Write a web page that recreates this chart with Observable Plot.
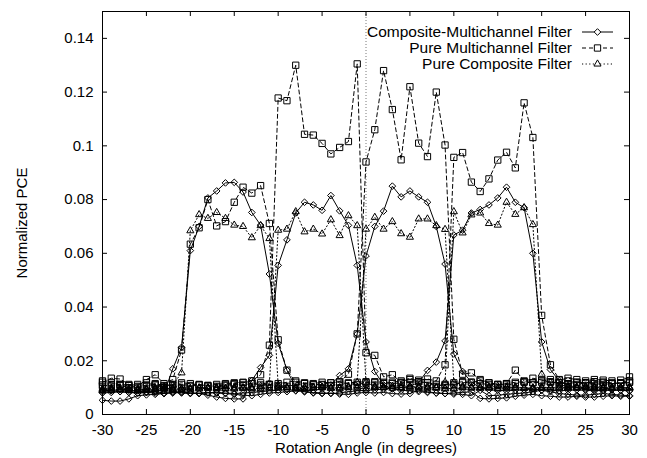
<!DOCTYPE html>
<html><head><meta charset="utf-8">
<script src="https://cdn.jsdelivr.net/npm/d3@7"></script>
<script src="https://cdn.jsdelivr.net/npm/@observablehq/plot@0.6"></script>
<style>
body{margin:0;background:#fff}
#chart{position:relative;width:647px;height:458px}
</style>
</head><body><div id="chart"></div>
<script>
// ---------- data (x = -30 .. 30 degrees, step 1) ----------
const angles = d3.range(-30, 31);

// Composite-Multichannel Filter (4 curves)
const cm1 = [0.0053,0.0050,0.0050,0.0058,0.0070,0.0073,0.0075,0.0078,
  0.0170,0.0250,0.0610,0.0700,0.0806,0.0832,0.0862,0.0864,0.0828,0.0752,0.0705,0.0523,0.0265,0.0165,
  0.0100,0.0085,0.0080,0.0078,0.0080,0.0076,0.0075,0.0080,0.0082,0.0080,0.0082,0.0078,0.0076,0.0078,0.0090,0.0085,0.0080,0.0078,0.0076,0.0075,0.0070,0.0090,0.0070,0.0072,0.0075,0.0078,0.0080,0.0085,0.0090,0.0085,0.0078,0.0075,0.0072,0.0072,0.0075,0.0078,0.0075,0.0072,0.0070];
const cm2 = [0.0080,0.0082,0.0085,0.0083,0.0080,0.0082,0.0085,0.0080,0.0082,0.0085,0.0080,0.0078,0.0072,0.0065,0.0060,0.0058,0.0058,
  0.0127,0.0175,0.0220,0.0555,0.0650,0.0750,0.0790,0.0780,0.0760,0.0815,0.0758,0.0704,0.0555,0.0270,0.0160,
  0.0110,0.0095,0.0090,0.0088,0.0085,0.0082,0.0080,0.0078,0.0080,0.0082,0.0085,0.0060,0.0058,0.0060,0.0062,0.0068,0.0072,0.0075,0.0070,0.0068,0.0065,0.0065,0.0068,0.0065,0.0065,0.0068,0.0070,0.0068,0.0068];
const cm3 = [0.0090,0.0088,0.0085,0.0082,0.0080,0.0082,0.0080,0.0078,0.0080,0.0082,0.0080,0.0078,0.0080,0.0082,0.0080,0.0078,0.0080,0.0082,0.0085,0.0088,0.0090,0.0092,0.0090,0.0088,0.0090,0.0095,
  0.0110,0.0145,0.0170,0.0300,0.0590,0.0700,0.0757,0.0850,0.0810,0.0832,0.0810,0.0790,0.0700,0.0560,0.0225,0.0160,0.0120,
  0.0100,0.0092,0.0090,0.0088,0.0090,0.0092,0.0095,0.0092,0.0090,0.0088,0.0090,0.0092,0.0090,0.0088,0.0090,0.0092,0.0090,0.0088];
const cm4 = [0.0085,0.0090,0.0092,0.0090,0.0088,0.0085,0.0088,0.0090,0.0085,0.0080,0.0078,0.0080,0.0082,0.0080,0.0078,0.0075,0.0072,0.0070,0.0075,0.0080,0.0082,0.0085,0.0088,0.0085,0.0082,0.0080,0.0078,0.0080,0.0085,0.0088,0.0090,0.0092,0.0095,0.0098,0.0100,0.0105,
  0.0120,0.0164,0.0195,0.0274,0.0668,0.0686,0.0750,0.0763,0.0780,0.0806,0.0846,0.0790,0.0770,0.0600,0.0270,0.0167,0.0125,
  0.0110,0.0100,0.0095,0.0092,0.0090,0.0092,0.0090,0.0088];

// Pure Multichannel Filter (4 curves)
const pm1 = [0.0120,0.0135,0.0132,0.0112,0.0105,0.0130,0.0148,0.0115,
  0.0130,0.0240,0.0634,0.0695,0.0800,0.0702,0.0718,0.0790,0.0846,0.0824,0.0852,0.0711,0.0278,0.0165,0.0120,
  0.0115,0.0110,0.0112,0.0118,0.0120,0.0115,0.0112,0.0118,0.0122,0.0120,0.0115,0.0118,0.0120,0.0122,0.0118,0.0112,0.0108,0.0112,0.0118,0.0120,0.0115,0.0112,0.0110,0.0115,0.0165,0.0125,0.0118,0.0120,0.0122,0.0118,0.0115,0.0120,0.0118,0.0115,0.0112,0.0115,0.0118,0.0120];
const pm2 = [0.0110,0.0105,0.0108,0.0100,0.0098,0.0105,0.0110,0.0100,0.0095,0.0098,0.0105,0.0110,0.0108,0.0105,0.0112,0.0115,0.0118,
  0.0125,0.0148,0.0258,0.1178,0.1168,0.1300,0.1043,0.1040,0.1009,0.0970,0.0994,0.1016,0.1305,0.0230,0.0220,0.0140,
  0.0148,0.0120,0.0135,0.0122,0.0118,0.0105,0.0112,0.0118,0.0122,0.0120,0.0125,0.0118,0.0112,0.0110,0.0115,0.0120,0.0118,0.0125,0.0130,0.0128,0.0135,0.0130,0.0125,0.0130,0.0128,0.0125,0.0128,0.0140];
const pm3 = [0.0105,0.0110,0.0112,0.0108,0.0102,0.0110,0.0115,0.0108,0.0112,0.0118,0.0115,0.0110,0.0108,0.0112,0.0115,0.0118,0.0120,0.0115,0.0110,0.0112,0.0115,0.0120,0.0125,0.0118,0.0115,0.0120,0.0118,0.0122,
  0.0150,0.0300,0.0940,0.1060,0.1280,0.1135,0.0948,0.1220,0.1010,0.0960,0.1200,0.1003,0.0280,0.0150,0.0155,
  0.0130,0.0118,0.0112,0.0115,0.0120,0.0122,0.0135,0.0128,0.0120,0.0118,0.0115,0.0112,0.0118,0.0122,0.0120,0.0115,0.0118,0.0125];
const pm4 = [0.0125,0.0118,0.0112,0.0108,0.0112,0.0118,0.0110,0.0105,0.0110,0.0112,0.0108,0.0112,0.0105,0.0102,0.0108,0.0112,0.0110,0.0115,0.0118,0.0112,0.0108,0.0105,0.0110,0.0115,0.0112,0.0110,0.0108,0.0112,0.0118,0.0120,0.0122,0.0118,0.0115,0.0120,0.0125,0.0130,0.0128,0.0132,
  0.0125,0.0185,0.0957,0.0975,0.0865,0.0830,0.0877,0.0947,0.0976,0.0918,0.1160,0.1031,0.0369,0.0185,0.0130,
  0.0125,0.0120,0.0118,0.0122,0.0120,0.0118,0.0115,0.0120];

// Pure Composite Filter (4 curves)
const pc1 = [0.0095,0.0098,0.0100,0.0095,0.0092,0.0095,0.0100,0.0105,0.0110,
  0.0155,0.0684,0.0744,0.0730,0.0752,0.0730,0.0705,0.0700,0.0658,0.0703,0.0655,0.0110,
  0.0100,0.0095,0.0098,0.0100,0.0102,0.0098,0.0095,0.0100,0.0098,0.0095,0.0100,0.0102,0.0105,0.0100,0.0098,0.0102,0.0105,0.0100,0.0098,0.0095,0.0100,0.0098,0.0100,0.0102,0.0105,0.0102,0.0100,0.0098,0.0100,0.0102,0.0100,0.0098,0.0100,0.0102,0.0105,0.0102,0.0100,0.0098,0.0100,0.0102];
const pc2 = [0.0088,0.0090,0.0092,0.0095,0.0092,0.0090,0.0092,0.0095,0.0098,0.0095,0.0092,0.0095,0.0098,0.0100,0.0098,0.0095,0.0098,0.0100,0.0105,
  0.0115,0.0686,0.0690,0.0755,0.0680,0.0690,0.0672,0.0725,0.0666,0.0740,0.0703,0.0120,
  0.0105,0.0100,0.0098,0.0100,0.0102,0.0105,0.0100,0.0098,0.0095,0.0098,0.0100,0.0102,0.0100,0.0098,0.0095,0.0098,0.0100,0.0098,0.0095,0.0098,0.0100,0.0102,0.0100,0.0098,0.0100,0.0098,0.0095,0.0098,0.0100,0.0098];
const pc3 = [0.0092,0.0095,0.0092,0.0090,0.0092,0.0095,0.0098,0.0095,0.0092,0.0095,0.0098,0.0100,0.0098,0.0095,0.0098,0.0100,0.0098,0.0095,0.0098,0.0100,0.0102,0.0100,0.0098,0.0100,0.0102,0.0100,0.0098,0.0100,0.0105,
  0.0120,0.0690,0.0734,0.0690,0.0718,0.0673,0.0660,0.0728,0.0728,0.0703,0.0689,0.0120,
  0.0105,0.0100,0.0098,0.0100,0.0098,0.0100,0.0102,0.0100,0.0098,0.0100,0.0102,0.0100,0.0098,0.0100,0.0102,0.0100,0.0098,0.0100,0.0098,0.0100];
const pc4 = [0.0090,0.0092,0.0095,0.0092,0.0090,0.0092,0.0095,0.0098,0.0095,0.0092,0.0095,0.0098,0.0100,0.0098,0.0095,0.0098,0.0100,0.0098,0.0095,0.0098,0.0100,0.0102,0.0100,0.0098,0.0100,0.0102,0.0100,0.0098,0.0100,0.0102,0.0105,0.0102,0.0100,0.0105,0.0108,0.0105,0.0100,0.0098,0.0100,
  0.0120,0.0755,0.0676,0.0743,0.0750,0.0711,0.0705,0.0790,0.0745,0.0770,0.0707,0.0150,
  0.0120,0.0110,0.0105,0.0100,0.0102,0.0105,0.0102,0.0100,0.0098,0.0100];

const seriesNames = ["Composite-Multichannel Filter", "Pure Multichannel Filter", "Pure Composite Filter"];
const xTicks = [-30, -25, -20, -15, -10, -5, 0, 5, 10, 15, 20, 25, 30];
const yTicks = [0, 0.02, 0.04, 0.06, 0.08, 0.1, 0.12, 0.14];
const xLabel = "Rotation Angle (in degrees)";
const yLabel = "Normalized PCE";

// ---------- styling ----------
const W = 647, H = 458;
const mL = 102, mR = 18, mT = 11, mB = 44;
const innerW = W - mL - mR, innerH = H - mT - mB;
const tickLen = 5;
const FONT = "'Liberation Sans', Arial, Helvetica, sans-serif";

const families = [
  {name: seriesNames[0], curves: [cm1, cm2, cm3, cm4], symbol: "diamond2", r: 3.0, dash: null, d3sym: d3.symbolDiamond2},
  {name: seriesNames[1], curves: [pm1, pm2, pm3, pm4], symbol: "square2", r: 4.0, dash: "4,3", d3sym: d3.symbolSquare2},
  {name: seriesNames[2], curves: [pc1, pc2, pc3, pc4], symbol: "triangle2", r: 3.4, dash: "1.2,2.4", d3sym: d3.symbolTriangle2}
];

const rows = [];
families.forEach((f, fi) => f.curves.forEach((c, ci) => {
  if (c.length !== angles.length) console.error("length mismatch", f.name, ci, c.length);
  c.forEach((v, i) => rows.push({family: f.name, curve: fi * 4 + ci, x: angles[i], y: v}));
}));

const dataMarks = [];
families.forEach(f => {
  const d = rows.filter(r => r.family === f.name);
  dataMarks.push(Plot.line(d, {x: "x", y: "y", z: "curve", stroke: "black", strokeWidth: 1, strokeDasharray: f.dash}));
  dataMarks.push(Plot.dot(d, {x: "x", y: "y", symbol: f.symbol, r: f.r, stroke: "black", strokeWidth: 1, fill: "none"}));
});

const plot = Plot.plot({
  width: W, height: H,
  marginLeft: mL, marginRight: mR, marginTop: mT, marginBottom: mB,
  style: {fontFamily: FONT, fontSize: "15px", color: "black", background: "white", overflow: "visible"},
  x: {domain: [-30, 30]},
  y: {domain: [0, 0.15]},
  marks: [
    Plot.ruleX([0], {stroke: "#555", strokeWidth: 0.8, strokeDasharray: "1,2"}),
    ...dataMarks,
    Plot.frame({stroke: "black", strokeWidth: 1}),
    // inward ticks on all four sides
    Plot.tickX(xTicks, {x: d => d, stroke: "black", insetTop: innerH - tickLen}),
    Plot.tickX(xTicks, {x: d => d, stroke: "black", insetBottom: innerH - tickLen}),
    Plot.tickY(yTicks, {y: d => d, stroke: "black", insetRight: innerW - tickLen}),
    Plot.tickY(yTicks, {y: d => d, stroke: "black", insetLeft: innerW - tickLen}),
    Plot.axisX(xTicks, {tickSize: 0, tickPadding: 10, tickFormat: d => String(d), label: null, fontSize: 15}),
    Plot.axisY(yTicks, {tickSize: 0, tickPadding: 9, tickFormat: d => String(+d.toFixed(2)), label: null, fontSize: 15}),
    Plot.text([xLabel], {frameAnchor: "bottom", dy: 34, lineAnchor: "middle", text: d => d, fontSize: 15}),
    Plot.text([yLabel], {frameAnchor: "left", dx: -80, dy: 10, rotate: -90, textAnchor: "middle", lineAnchor: "middle", text: d => d, fontSize: 15})
  ]
});

document.getElementById("chart").appendChild(plot);

// ---------- key (inside the plot, top right, gnuplot style) ----------
const svg = d3.select(plot);
const key = svg.append("g").attr("font-family", FONT).attr("font-size", 15.5);
const keyTextX = W - mR - 57, keyLineX1 = W - mR - 47, keyLineX2 = W - mR - 16, keyY0 = mT + 21, keyDy = 16;
families.forEach((f, i) => {
  const y = keyY0 + i * keyDy;
  key.append("text").attr("x", keyTextX).attr("y", y).attr("dy", "0.35em")
    .attr("text-anchor", "end").attr("fill", "black").text(f.name);
  key.append("line").attr("x1", keyLineX1).attr("x2", keyLineX2).attr("y1", y).attr("y2", y)
    .attr("stroke", "black").attr("stroke-width", 1).attr("stroke-dasharray", f.dash);
  key.append("path").attr("transform", `translate(${(keyLineX1 + keyLineX2) / 2},${y})`)
    .attr("d", d3.symbol(f.d3sym, Math.PI * f.r * f.r)())
    .attr("fill", "white").attr("stroke", "black").attr("stroke-width", 1);
});
</script>
</body></html>
